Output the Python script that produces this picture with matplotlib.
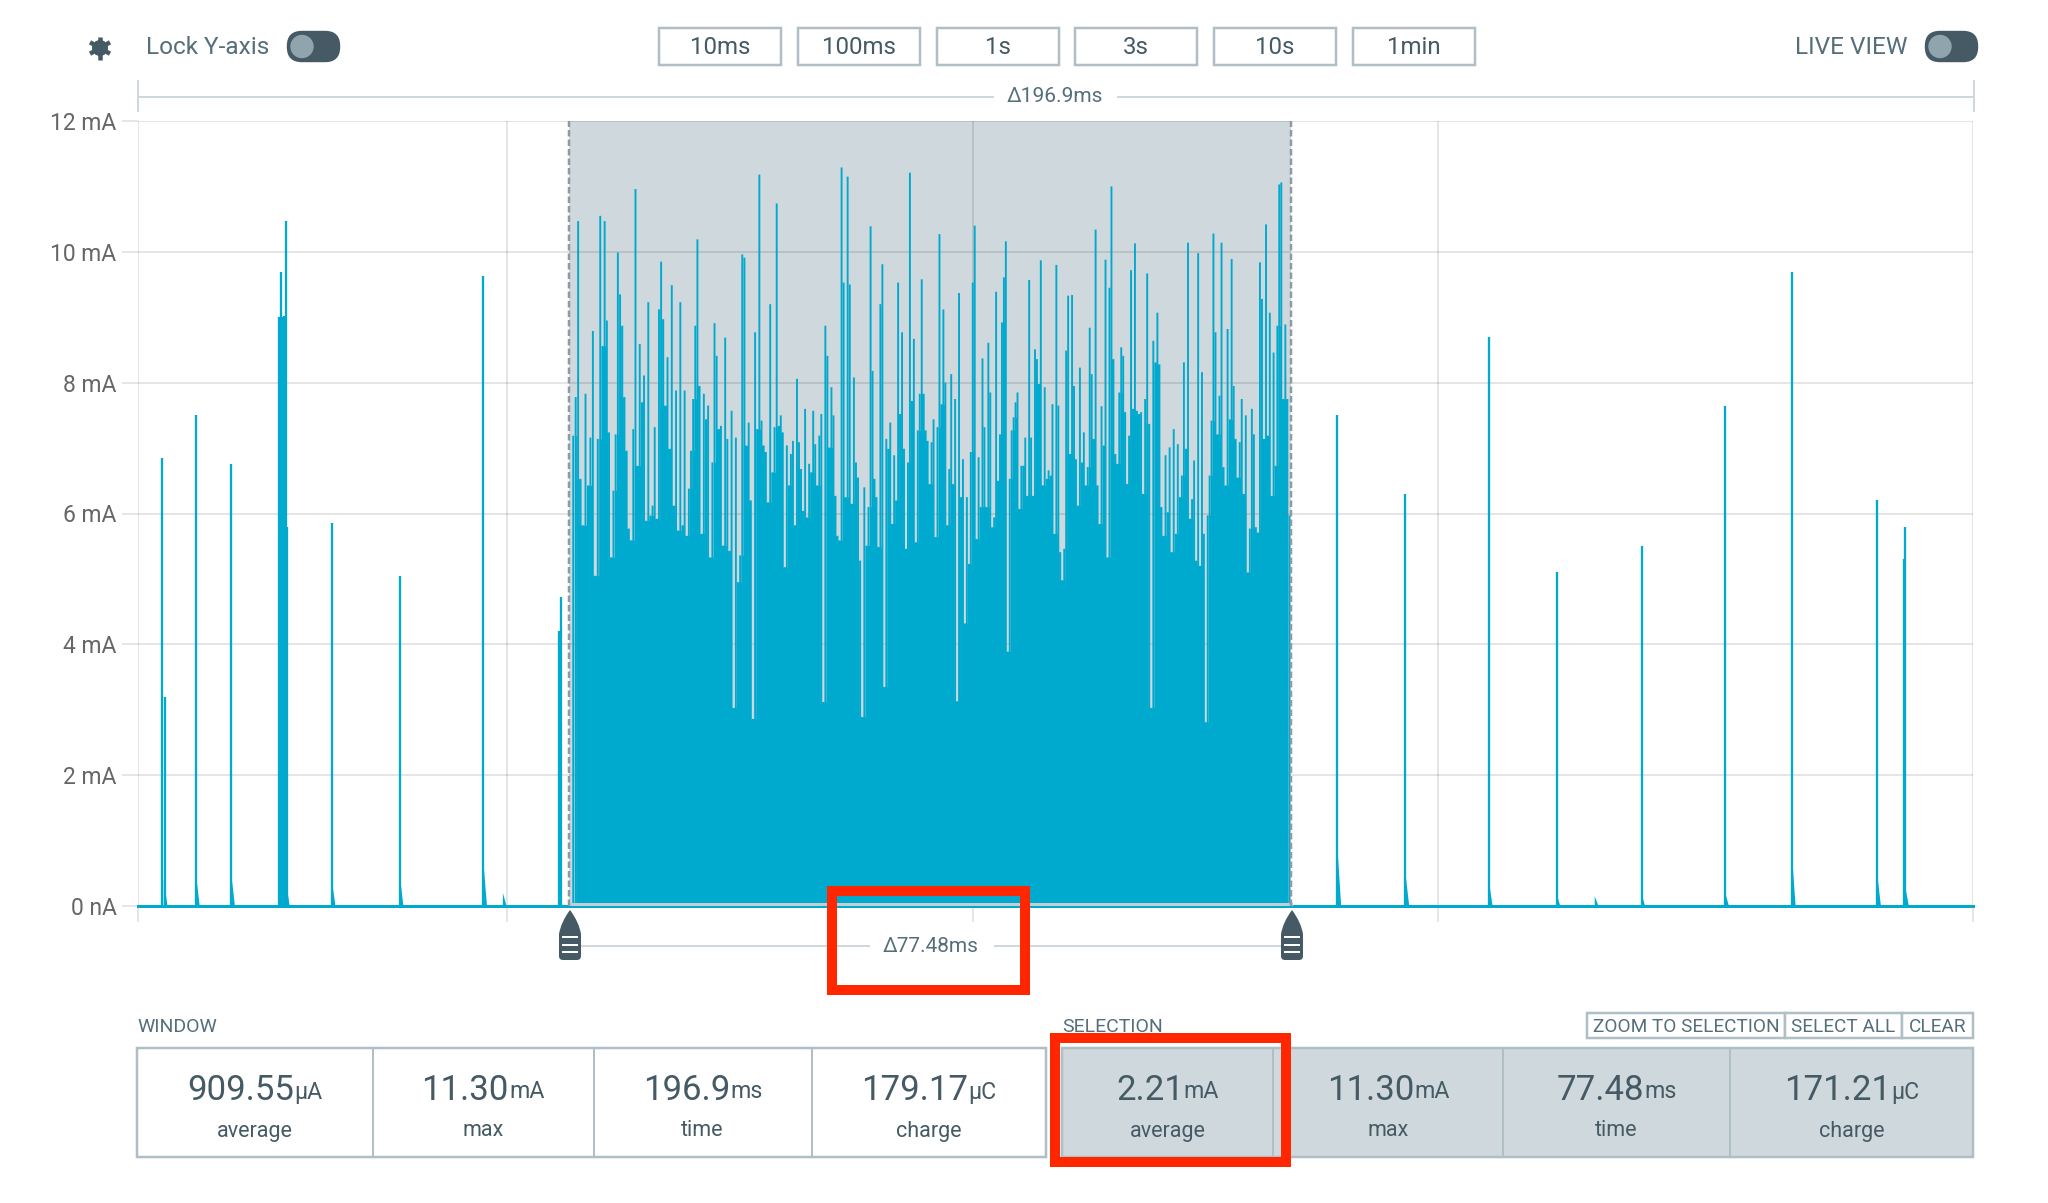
import numpy as np
import matplotlib
matplotlib.use("Agg")
import matplotlib.pyplot as plt
from matplotlib.patches import Rectangle, FancyBboxPatch, Circle, PathPatch
from matplotlib.path import Path

plt.rcParams['font.family'] = ['Roboto', 'DejaVu Sans']

# Spikes outside the selection
spike_ms = [2.62, 2.90, 3.10, 6.27, 6.55, 10.05, 10.33, 15.23, 15.34, 15.39, 15.50, 15.60, 15.71, 15.90, 16.00,
            16.20, 20.84, 21.12, 28.12, 28.40, 37.06, 37.37, 39.47, 45.20, 45.40,
            128.70, 129.00, 136.00, 136.30, 144.96, 145.24, 152.25, 152.50, 156.60, 161.36, 161.60,
            170.30, 170.60, 177.50, 177.75, 186.60, 186.90, 189.50, 189.65, 189.90]
spike_ma = [6.85, 3.20, 0.40, 7.50, 0.50, 6.75, 0.50, 9.00, 9.00, 9.69, 9.00, 9.00, 9.02, 10.47, 5.80,
            0.40, 5.85, 0.40, 5.05, 0.50, 9.63, 0.70, 0.20, 4.20, 4.72,
            7.50, 0.90, 6.30, 0.50, 8.70, 0.40, 5.10, 0.20, 0.15, 5.50, 0.20,
            7.65, 0.20, 9.69, 0.80, 6.20, 0.50, 5.30, 5.80, 0.30]

# Samples inside the selection, read left to right
selection_ma = [
    7.19, 7.78, 10.47, 6.53, 5.82, 7.83, 6.43, 7.16, 8.79, 5.05, 7.14, 10.55, 8.56, 10.47, 8.95, 7.24, 5.33, 6.35,
    7.21, 9.99, 9.35, 8.87, 7.78, 6.96, 5.77, 5.59, 7.29, 10.96, 6.73, 8.59, 7.70, 8.11, 5.89, 9.23, 5.97, 6.12,
    7.32, 5.92, 9.12, 9.85, 8.97, 7.65, 8.39, 6.99, 9.49, 6.12, 7.88, 5.74, 9.23, 5.82, 7.88, 5.66, 6.38, 6.96,
    7.75, 8.87, 10.19, 7.95, 5.69, 7.83, 7.44, 7.65, 5.33, 6.78, 8.91, 8.41, 7.29, 7.34, 5.51, 8.69, 7.14, 5.43,
    7.57, 3.03, 7.16, 4.95, 5.36, 9.96, 9.91, 7.04, 7.39, 6.20, 2.86, 8.77, 7.29, 11.18, 7.42, 7.04, 6.94, 6.17,
    9.20, 6.63, 7.32, 10.74, 7.34, 7.50, 7.24, 5.18, 7.04, 6.43, 6.91, 7.11, 5.82, 8.06, 7.09, 6.68, 6.04, 7.60,
    5.94, 6.76, 6.63, 7.57, 7.06, 6.43, 7.19, 7.52, 3.12, 8.87, 8.41, 7.01, 7.93, 7.50, 6.27, 5.66, 5.59, 11.29,
    9.53, 6.25, 11.15, 9.50, 6.15, 8.08, 6.78, 6.55, 5.28, 2.89, 6.40, 5.51, 6.10, 10.39, 8.18, 6.53, 6.25, 5.49,
    9.20, 9.81, 3.35, 7.14, 6.99, 7.39, 5.84, 6.89, 6.20, 9.53, 7.52, 8.77, 6.99, 5.46, 6.78, 11.21, 7.72, 8.67,
    5.56, 7.27, 7.83, 9.58, 7.83, 7.27, 7.11, 6.45, 7.09, 7.44, 5.64, 7.32, 10.27, 7.67, 9.12, 8.00, 5.82, 6.68,
    8.13, 6.45, 7.75, 3.13, 9.37, 6.25, 6.83, 4.32, 6.25, 5.23, 6.94, 9.53, 10.40, 5.61, 6.86, 6.10, 8.37, 7.32,
    6.10, 8.61, 7.85, 5.79, 5.94, 9.39, 6.50, 7.21, 8.92, 9.61, 10.16, 3.89, 6.53, 7.27, 7.47, 7.70, 7.85, 6.07,
    6.73, 6.73, 7.16, 6.27, 9.57, 7.16, 6.27, 8.51, 8.36, 7.98, 9.87, 6.43, 7.93, 6.53, 6.66, 6.58, 7.67, 5.69,
    9.80, 7.65, 5.41, 4.98, 5.46, 8.49, 9.33, 6.91, 9.34, 7.95, 6.83, 6.12, 8.23, 6.78, 7.24, 6.43, 6.71, 8.84,
    8.13, 7.14, 10.34, 6.43, 5.84, 7.64, 7.04, 9.88, 5.33, 9.45, 11.00, 8.36, 6.91, 6.76, 7.85, 8.54, 8.41, 7.55,
    6.45, 7.19, 9.72, 7.60, 10.13, 7.57, 7.52, 7.55, 6.30, 7.75, 9.67, 7.37, 3.03, 8.64, 8.31, 9.07, 8.28, 6.10,
    5.66, 6.89, 6.02, 7.01, 5.41, 7.29, 5.69, 7.06, 6.25, 6.58, 8.31, 6.99, 10.14, 5.92, 6.22, 6.81, 5.28, 9.98,
    5.20, 8.16, 5.69, 2.81, 5.97, 6.58, 7.42, 10.28, 8.77, 7.21, 7.80, 10.14, 6.71, 6.43, 8.82, 7.44, 9.89, 7.95,
    7.14, 6.55, 7.09, 7.75, 6.30, 7.50, 5.10, 5.77, 7.60, 7.21, 5.79, 5.71, 9.84, 9.28, 7.14, 10.42, 7.19, 9.07,
    6.27, 8.46, 6.73, 8.87, 11.03, 11.06, 7.75, 8.89, 7.75, 5.97,
]

peak_ma = [10.55, 10.96, 11.18, 10.74, 11.29, 11.15, 10.39, 11.21, 10.27, 10.40, 10.16, 9.80, 10.34, 11.00,
           10.13, 10.14, 9.98, 10.28, 10.42, 11.03]
peak_ms = [49.64, 53.42, 66.71, 68.57, 75.53, 76.18, 78.64, 82.86, 86.03, 89.81, 93.15, 98.57, 102.78, 104.48,
           107.00, 112.69, 113.78, 115.42, 121.06, 122.48]

window_ms = 196.9
selection_start = 46.3
selection_length = 77.48
first_sample_ms = 46.74
last_sample_ms = 123.57

y_ticks = [0, 2, 4, 6, 8, 10, 12]
y_labels = ["0 nA", "2 mA", "4 mA", "6 mA", "8 mA", "10 mA", "12 mA"]
x_ticks = [0, 39.64, 89.62, 139.5, 196.9]

time_buttons = ["10ms", "100ms", "1s", "3s", "10s", "1min"]
stat_names = ["average", "max", "time", "charge"]
window_values = ["909.55", "11.30", "196.9", "179.17"]
window_units = ["µA", "mA", "ms", "µC"]
selection_values = ["2.21", "11.30", "77.48", "171.21"]
selection_units = ["mA", "mA", "ms", "µC"]

BLUE = "#00a9ce"
SHADE = "#cfd8dc"
BORDER = "#b0bec5"
DARK = "#455a64"
TEXT = "#546e7a"
RED = "#ff2600"
PX = 0.72  # one pixel in points at dpi 100

fig = plt.figure(figsize=(20.48, 12.03), dpi=100, facecolor="white")

# chart
ax = fig.add_axes([137.5 / 2048, (1203 - 906) / 1203, 1835.5 / 2048, 785 / 1203])
ax.set_xlim(0, window_ms)
ax.set_ylim(0, 12)
for side in ax.spines.values():
    side.set_visible(False)
ax.set_axisbelow(True)
ax.grid(True, color="black", alpha=0.1, lw=2 * PX)
ax.set_xticks(x_ticks)
ax.set_xticklabels([])
ax.set_yticks(y_ticks)
ax.set_yticklabels(y_labels, fontsize=16.5, color="#666666")
ax.tick_params(axis="both", length=16 * PX, width=2 * PX, color="#e4e6e7", pad=5 * PX)

selection_end = selection_start + selection_length
ax.axvspan(selection_start, selection_end, color=SHADE, lw=0, zorder=0.4)
for edge in [selection_start, selection_end]:
    ax.axvline(edge, color="#8f9ba2", lw=2.5 * PX, ls=(0, (2.6, 1.2)), zorder=4)

ax.plot([0, window_ms], [0, 0], color=BLUE, lw=3 * PX, clip_on=False, zorder=3)
for t, v in zip(spike_ms, spike_ma):
    if v < 1:
        # the small decay behind a spike
        ax.fill([t - 0.28, t - 0.28, t + 0.12], [0, v, 0], color=BLUE, lw=0, zorder=3)
    else:
        ax.vlines(t, 0, v, color=BLUE, lw=2.3 * PX, zorder=3)

values = np.array(selection_ma)
sample_index = np.arange(len(values))
known_index = [0] + [selection_ma.index(p) for p in peak_ma] + [len(values) - 1]
known_ms = [first_sample_ms] + peak_ms + [last_sample_ms]
times = np.interp(sample_index, known_index, known_ms)

spikes = ax.vlines(times, 0, values, color=BLUE, lw=1.9 * PX, zorder=3)
spikes.set_snap(False)
# solid body under the spikes, only as high as the lowest of three neighbours
lower = np.minimum(values[:-2], values[2:])
body = np.minimum(lower, values[1:-1])
ax.fill_between(times[1:-1], 0, body, step="mid", color=BLUE, lw=0, zorder=3)
# thin light gaps where a sample dips under both neighbours
dips = values[1:-1] < lower
gaps = ax.vlines(times[1:-1][dips], values[1:-1][dips], lower[dips], color=SHADE, lw=0.8 * PX, alpha=0.7, zorder=3.1)
gaps.set_snap(False)
ax.plot([selection_start, selection_end], [0.03, 0.03], color="#c3cdd2", lw=3 * PX, clip_on=False, zorder=3.2)

# everything around the chart, in screenshot pixels
ui = fig.add_axes([0, 0, 1, 1])
ui.set_xlim(0, 2048)
ui.set_ylim(1203, 0)
ui.axis("off")
ui.patch.set_alpha(0)


def label(x, y, s, size, color=TEXT, ha="center"):
    return ui.text(x, y, s, fontsize=size, color=color, ha=ha, va="center")


def box(x0, y0, x1, y1, fill="white", edge=BORDER, lw=2.5):
    ui.add_patch(Rectangle((x0, y0), x1 - x0, y1 - y0, facecolor=fill, edgecolor=edge, lw=lw * PX))


def toggle(x0):
    ui.add_patch(FancyBboxPatch((x0 + 15, 31 + 15), 53 - 30, 1, boxstyle="round,pad=15.2",
                                facecolor=DARK, edgecolor="none"))
    ui.add_patch(Circle((x0 + 15, 46.5), 11.7, facecolor="#90a4ae", edgecolor="none"))


def handle(x):
    verts = [(x, 910), (x + 9, 922), (x + 11, 934), (x + 11, 956), (x + 11, 960), (x + 7, 960), (x - 7, 960),
             (x - 11, 960), (x - 11, 956), (x - 11, 934), (x - 9, 922), (x, 910)]
    codes = [Path.MOVETO, Path.CURVE3, Path.CURVE3, Path.LINETO, Path.CURVE3, Path.CURVE3, Path.LINETO,
             Path.CURVE3, Path.CURVE3, Path.LINETO, Path.CURVE3, Path.CURVE3]
    ui.add_patch(PathPatch(Path(verts, codes), facecolor=DARK, edgecolor="none"))
    for y in [937, 944.5, 952]:
        ui.plot([x - 7, x + 7], [y, y], color="white", lw=2 * PX)


# gear
ui.add_patch(Circle((100, 48), 8, facecolor=DARK, edgecolor="none"))
for angle in [30, 90, 150]:
    dx, dy = 11.5 * np.cos(np.radians(angle)), 11.5 * np.sin(np.radians(angle))
    ui.plot([100 - dx, 100 + dx], [48 - dy, 48 + dy], color=DARK, lw=4.5 * PX, solid_capstyle="butt")
ui.add_patch(Circle((100, 48), 4, facecolor="white", edgecolor="none"))

label(146, 48, "Lock Y-axis", 17.6, ha="left")
toggle(287)
label(1795, 48, "LIVE VIEW", 17.6, ha="left")
toggle(1925)

for i, name in enumerate(time_buttons):
    x0 = [659, 798, 937, 1075, 1214, 1353][i]
    box(x0, 27.5, x0 + 122, 64.5)
    label(x0 + 61, 48, name, 17.3, color=DARK)

# window ruler
ruler = "#cfd8dc"
ui.plot([138, 993], [97, 97], color=ruler, lw=2 * PX)
ui.plot([1118, 1974], [97, 97], color=ruler, lw=2 * PX)
ui.plot([138, 138], [81, 111], color=ruler, lw=2 * PX)
ui.plot([1974, 1974], [81, 111], color=ruler, lw=2 * PX)
label(1055, 97, "Δ196.9ms", 15)

# selection ruler
ui.plot([582, 869], [946, 946], color=ruler, lw=2 * PX)
ui.plot([995, 1280], [946, 946], color=ruler, lw=2 * PX)
label(931, 946, "Δ77.48ms", 15)
handle(570)
handle(1292)

label(137, 1027, "WINDOW", 14, ha="left")
label(1062, 1027, "SELECTION", 14, ha="left")

for x0, x1, name in [(1587, 1785, "ZOOM TO SELECTION"), (1785, 1902, "SELECT ALL"), (1902, 1973, "CLEAR")]:
    box(x0, 1013, x1, 1038)
    label((x0 + x1) / 2, 1027, name, 13.7)

renderer = fig.canvas.get_renderer()


def stat_row(edges, fill, numbers, units):
    box(edges[0], 1048, edges[-1], 1157, fill=fill)
    for x in edges[1:-1]:
        ui.plot([x, x], [1048, 1157], color=BORDER, lw=2 * PX)
    for i in range(4):
        mid = (edges[i] + edges[i + 1]) / 2
        big = label(mid, 1090, numbers[i], 25, color=DARK, ha="left")
        small = label(mid, 1092, units[i], 16.7, color=DARK, ha="left")
        w_big = big.get_window_extent(renderer).width
        w_small = small.get_window_extent(renderer).width
        big.set_x(mid - (w_big + w_small) / 2)
        small.set_x(mid - (w_big + w_small) / 2 + w_big)
        label(mid, 1131, stat_names[i], 15.5, color=DARK)


stat_row([137, 372.5, 593.5, 811.6, 1046], "white", window_values, window_units)
stat_row([1062, 1273.4, 1502.7, 1730, 1973], SHADE, selection_values, selection_units)

# red call-outs
for x0, y0, x1, y1 in [(832, 891, 1025, 990), (1055, 1038, 1286, 1162)]:
    ui.add_patch(Rectangle((x0, y0), x1 - x0, y1 - y0, fill=False, edgecolor=RED, lw=10 * PX,
                           joinstyle="miter", zorder=6))

fig.savefig("out.png", dpi=100)
